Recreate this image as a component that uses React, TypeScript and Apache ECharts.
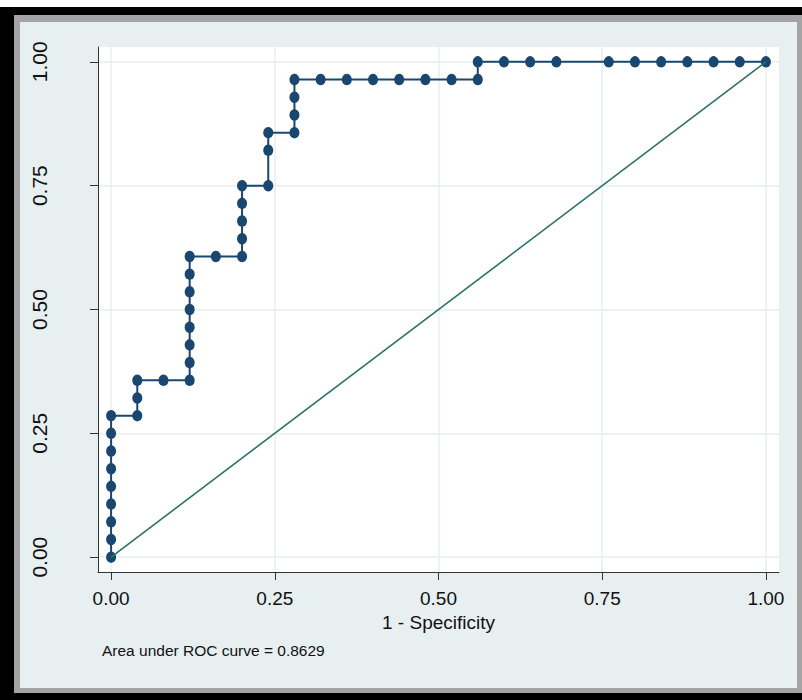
import React, { useEffect, useRef } from "react";
import * as echarts from "echarts";

const fpr = [
  0, 0, 0, 0, 0, 0, 0, 0, 0,
  0.04, 0.04, 0.04,
  0.08,
  0.12, 0.12, 0.12, 0.12, 0.12, 0.12, 0.12, 0.12,
  0.16,
  0.2, 0.2, 0.2, 0.2, 0.2,
  0.24, 0.24, 0.24,
  0.28, 0.28, 0.28, 0.28,
  0.32, 0.36, 0.4, 0.44, 0.48, 0.52,
  0.56, 0.56,
  0.6, 0.64, 0.68,
  0.76, 0.8, 0.84, 0.88, 0.92, 0.96, 1.0,
];

const tpr = [
  0, 0.0357, 0.0714, 0.1071, 0.1429, 0.1786, 0.2143, 0.25, 0.2857,
  0.2857, 0.3214, 0.3571,
  0.3571,
  0.3571, 0.3929, 0.4286, 0.4643, 0.5, 0.5357, 0.5714, 0.6071,
  0.6071,
  0.6071, 0.6429, 0.6786, 0.7143, 0.75,
  0.75, 0.8214, 0.8571,
  0.8571, 0.8929, 0.9286, 0.9643,
  0.9643, 0.9643, 0.9643, 0.9643, 0.9643, 0.9643,
  0.9643, 1,
  1, 1, 1,
  1, 1, 1, 1, 1, 1, 1,
];

const refLineX = [0, 1];
const refLineY = [0, 1];

const tickValues = [0, 0.25, 0.5, 0.75, 1];
const xTitle = "1 - Specificity";
const aucNote = "Area under ROC curve = 0.8629";

const FONT = "'Liberation Sans', Arial, Helvetica, sans-serif";
const NAVY = "#1a476f";
const GREEN = "#2c7361";
const GRIDC = "#e7eff1";
const AXISC = "#333333";

export default function App() {
  const ref = useRef<HTMLDivElement>(null);

  useEffect(() => {
    if (!ref.current) return;
    const chart = echarts.init(ref.current, undefined, { renderer: "svg" });
    const rocData = fpr.map((x, i) => [x, tpr[i]]);
    const diagData = refLineX.map((x, i) => [x, refLineY[i]]);

    chart.setOption({
      animation: false,
      backgroundColor: "transparent",
      textStyle: { fontFamily: FONT },
      title: {
        text: aucNote,
        left: 102,
        top: 642,
        padding: 0,
        textStyle: {
          fontFamily: FONT,
          fontSize: 15.5,
          fontWeight: "normal",
          color: "#111",
        },
      },
      grid: {
        left: 98,
        top: 47,
        width: 681,
        height: 525,
        show: true,
        backgroundColor: "#ffffff",
        borderWidth: 0,
        outerBoundsMode: "none",
        containLabel: false,
      },
      xAxis: {
        type: "value",
        min: -0.02,
        max: 1.02,
        name: xTitle,
        nameLocation: "middle",
        nameGap: 40,
        nameTextStyle: { fontFamily: FONT, fontSize: 19, color: "#111" },
        axisLine: { show: true, onZero: false, lineStyle: { color: AXISC, width: 1 } },
        axisTick: {
          show: true,
          customValues: tickValues,
          length: 8,
          lineStyle: { color: AXISC, width: 1 },
        },
        axisLabel: {
          customValues: tickValues,
          formatter: (v: number) => v.toFixed(2),
          fontFamily: FONT,
          fontSize: 19,
          color: "#111",
          margin: 17,
        },
        splitLine: { show: true, lineStyle: { color: GRIDC, width: 1.5 } },
      },
      yAxis: {
        type: "value",
        min: -0.03,
        max: 1.03,
        axisLine: { show: true, onZero: false, lineStyle: { color: AXISC, width: 1 } },
        axisTick: {
          show: true,
          customValues: tickValues,
          length: 8,
          lineStyle: { color: AXISC, width: 1 },
        },
        axisLabel: {
          customValues: tickValues,
          formatter: (v: number) => v.toFixed(2),
          fontFamily: FONT,
          fontSize: 21,
          color: "#111",
          rotate: 90,
          margin: 48,
        },
        splitLine: { show: true, lineStyle: { color: GRIDC, width: 1.5 } },
      },
      series: [
        {
          type: "line",
          data: rocData,
          symbol: "circle",
          symbolSize: [10, 11.5],
          showSymbol: true,
          lineStyle: { color: NAVY, width: 2 },
          itemStyle: { color: NAVY },
          z: 2,
        },
        {
          type: "line",
          data: diagData,
          symbol: "none",
          lineStyle: { color: GREEN, width: 1.6 },
          z: 3,
        },
      ],
    });
    return () => chart.dispose();
  }, []);

  return (
    <div style={{ position: "absolute", left: 0, top: 0, width: 802, height: 700, background: "#ffffff", overflow: "hidden" }}>
      <div style={{ position: "absolute", left: 0, top: 7, width: 802, height: 693, background: "#000000" }} />
      <div style={{ position: "absolute", left: 14, top: 15, width: 788, height: 678, background: "#a4a4a4" }} />
      <div style={{ position: "absolute", left: 20, top: 22, width: 777, height: 666, background: "#e8eff1" }} />
      <div ref={ref} style={{ position: "absolute", left: 0, top: 0, width: 802, height: 700 }} />
    </div>
  );
}
